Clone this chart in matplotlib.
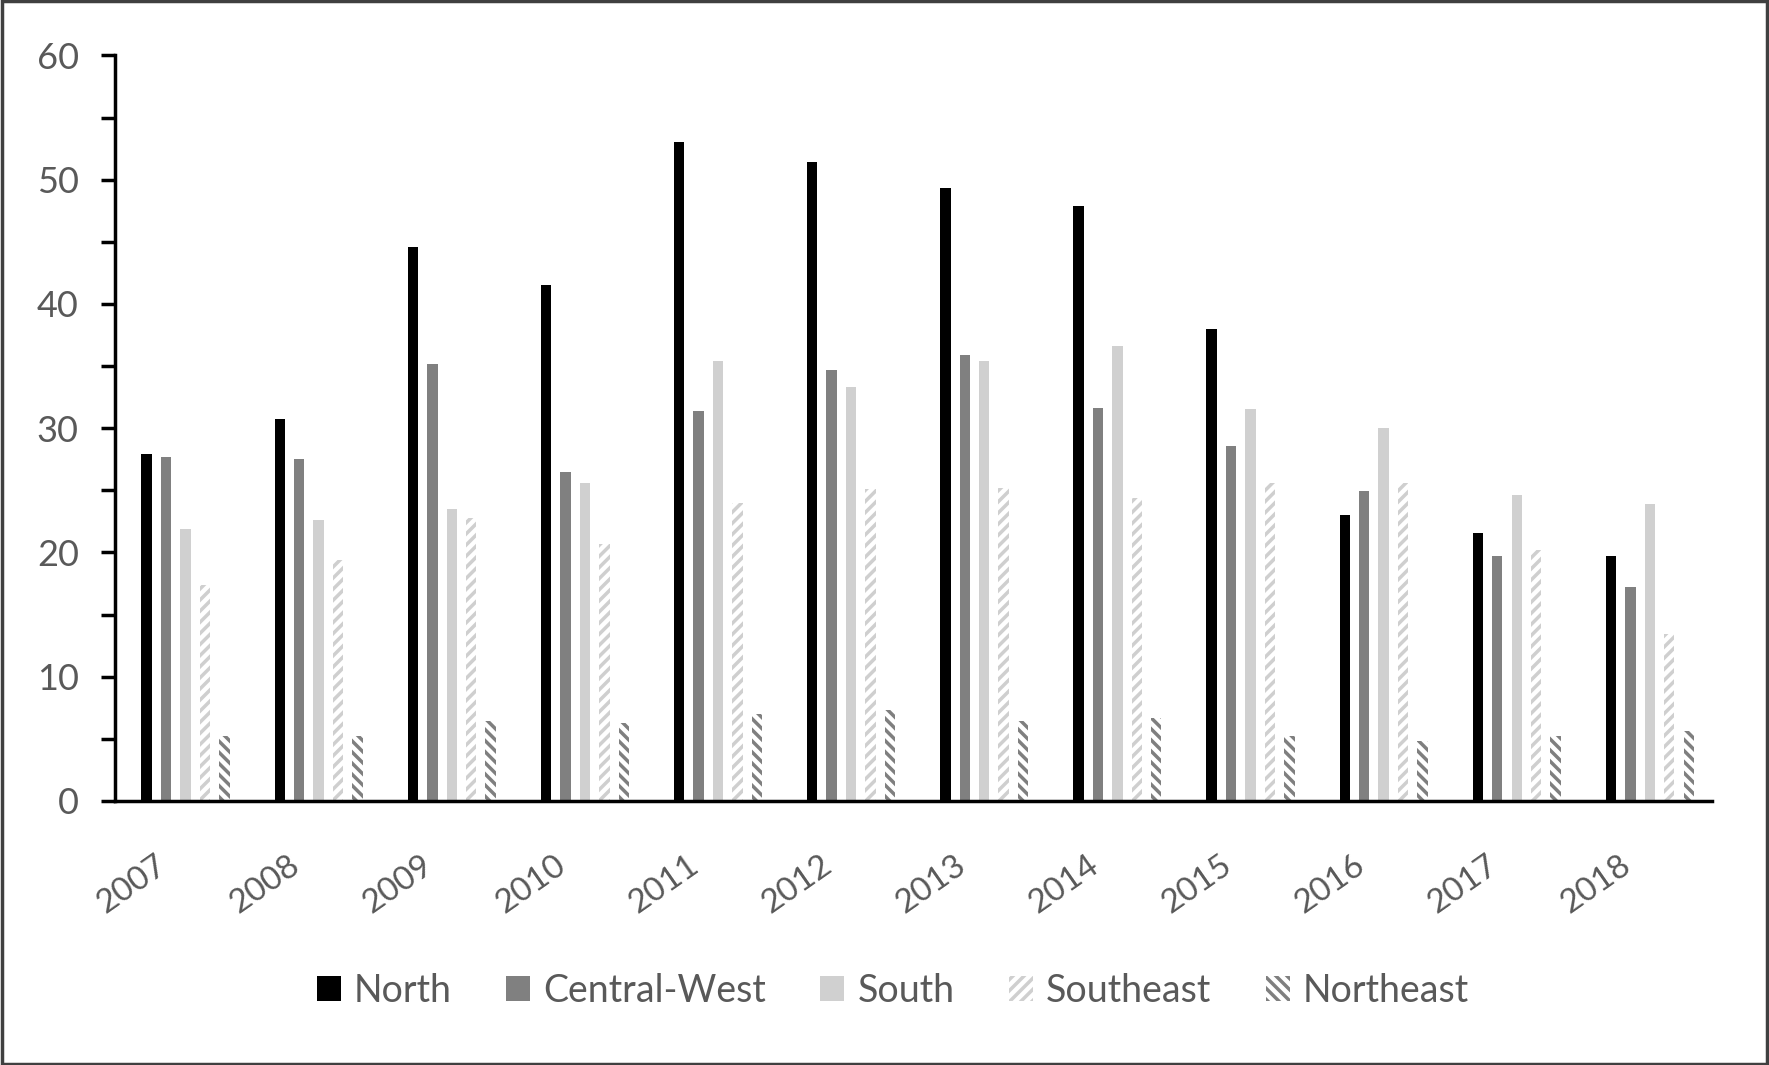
import numpy as np
import matplotlib
matplotlib.use('Agg')
import matplotlib.pyplot as plt
from matplotlib.patches import Rectangle

# Data
years = ['2007', '2008', '2009', '2010', '2011', '2012',
         '2013', '2014', '2015', '2016', '2017', '2018']
north = [27.9, 30.7, 44.6, 41.5, 53.0, 51.4, 49.3, 47.9, 38.0, 23.0, 21.6, 19.7]
central_west = [27.7, 27.5, 35.2, 26.5, 31.4, 34.7, 35.9, 31.6, 28.6, 24.9, 19.7, 17.2]
south = [21.9, 22.6, 23.5, 25.6, 35.4, 33.3, 35.4, 36.6, 31.5, 30.0, 24.6, 23.9]
southeast = [17.4, 19.4, 22.8, 20.7, 24.0, 25.1, 25.2, 24.4, 25.6, 25.6, 20.2, 13.4]
northeast = [5.2, 5.2, 6.4, 6.3, 7.0, 7.3, 6.4, 6.7, 5.2, 4.8, 5.2, 5.6]

series = [('North', north), ('Central-West', central_west), ('South', south),
          ('Southeast', southeast), ('Northeast', northeast)]

plt.rcParams['font.family'] = ['Lato', 'DejaVu Sans']
plt.rcParams['hatch.linewidth'] = 2.5
txtColor = '#595959'

fig = plt.figure(figsize=(17.69, 10.65), dpi=100)
ax = fig.add_axes([0.065, 0.248, 0.903, 0.700])

x = np.arange(len(years))
pitch = 0.146
width = 0.078
shift = 0.03
styles = [
    dict(color='black'),
    dict(color='#808080'),
    dict(color='#d0d0d0'),
    dict(facecolor='white', edgecolor='#cfcfcf', hatch='///', linewidth=0),
    dict(facecolor='white', edgecolor='#7f7f7f', hatch='\\\\\\', linewidth=0),
]
for i, (name, vals) in enumerate(series):
    ax.bar(x + shift + (i - 2) * pitch, vals, width, label=name, **styles[i])

ax.set_xlim(-0.5, len(years) - 0.5)
ax.set_ylim(0, 60)
ax.set_yticks(np.arange(0, 61, 10))
ax.set_yticks(np.arange(0, 61, 5), minor=True)
ax.tick_params(axis='y', which='both', direction='out', length=10, width=2.5,
               labelsize=26, labelcolor=txtColor, pad=16)
ax.tick_params(axis='x', length=0, labelsize=24, labelcolor=txtColor, pad=35)
ax.set_xticks(x - 0.2)
ax.set_xticklabels(years, rotation=35, ha='right', rotation_mode='anchor')

for s in ['top', 'right']:
    ax.spines[s].set_visible(False)
for s in ['left', 'bottom']:
    ax.spines[s].set_linewidth(2.5)

leg = ax.legend(loc='center', bbox_to_anchor=(0.487, -0.255), ncol=5, frameon=False,
                fontsize=27, handlelength=0.64, handleheight=0.64, handletextpad=0.35,
                columnspacing=1.45, labelcolor=txtColor)

fig.patches.append(Rectangle((0.001, 0.001), 0.998, 0.998, transform=fig.transFigure,
                             fill=False, edgecolor='#404040', linewidth=2.5))

fig.savefig('out.png', dpi=100)
